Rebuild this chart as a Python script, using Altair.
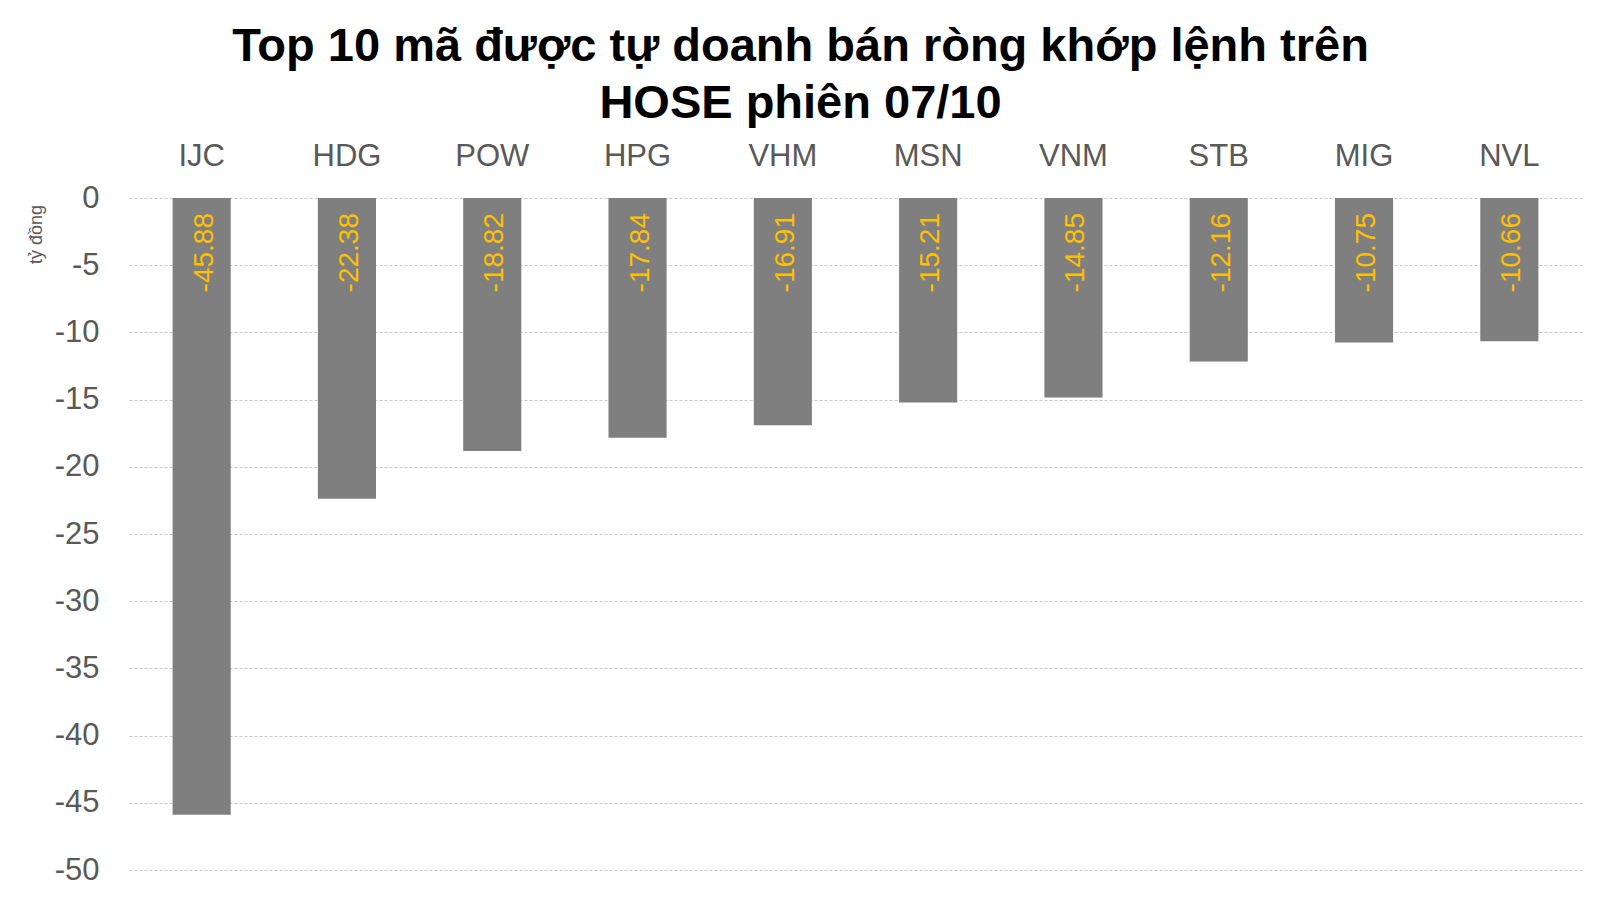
import pandas as pd
import altair as alt

# stocks and net selling value (billion VND)
tickers = ["IJC", "HDG", "POW", "HPG", "VHM", "MSN", "VNM", "STB", "MIG", "NVL"]
values = [-45.88, -22.38, -18.82, -17.84, -16.91, -15.21, -14.85, -12.16, -10.75, -10.66]
y_ticks = [0, -5, -10, -15, -20, -25, -30, -35, -40, -45, -50]

df = pd.DataFrame({"ticker": tickers, "value": values})
df["label"] = df["value"].map(lambda v: f"{v:.2f}")

FONT = "Liberation Sans"

x_enc = alt.X(
    "ticker:N",
    sort=tickers,
    scale=alt.Scale(paddingInner=0.6, paddingOuter=0.3),
    axis=alt.Axis(
        orient="top", title=None, labelAngle=0, ticks=False, domain=False,
        labelFontSize=31, labelColor="#595959", labelFont=FONT, labelPadding=26,
    ),
)

bars = alt.Chart(df).mark_bar(color="#7f7f7f").encode(
    x=x_enc,
    y=alt.Y(
        "value:Q",
        scale=alt.Scale(domain=[-50, 0], nice=False),
        axis=alt.Axis(
            values=y_ticks, title="tỷ đồng", titleFont=FONT, titleFontSize=18,
            titleFontWeight="normal", titleColor="#595959",
            titleX=-93, titleY=36, titleAlign="center", titleBaseline="middle",
            ticks=False, domain=False, labelFontSize=31, labelColor="#595959",
            labelFont=FONT, labelPadding=30,
            labelExpr="replace(datum.label, '\u2212', '-')",
            gridColor="#c8c8c8", gridDash=[3, 2], gridWidth=1,
        ),
    ),
)

labels = alt.Chart(df).mark_text(
    angle=270, align="right", baseline="middle", dx=-15, dy=3,
    fontSize=28, font=FONT, color="#FFC000",
).encode(
    x=alt.X("ticker:N", sort=tickers),
    y=alt.datum(0),
    text="label:N",
)

chart = alt.layer(bars, labels).properties(
    width=1453,
    height=672,
    padding={"left": 121, "top": 190, "right": 10, "bottom": 20},
    autosize=alt.AutoSizeParams(type="none"),
    title=alt.TitleParams(
        text=["Top 10 mã được tự doanh bán ròng khớp lệnh trên", "HOSE phiên 07/10"],
        font=FONT, fontSize=47, fontWeight="bold", color="#000000",
        anchor="middle", frame="group", dx=-55, lineHeight=57, offset=12,
    ),
).configure_view(stroke=None)

chart.save("out.html", embed_options={"renderer": "svg", "actions": False})
